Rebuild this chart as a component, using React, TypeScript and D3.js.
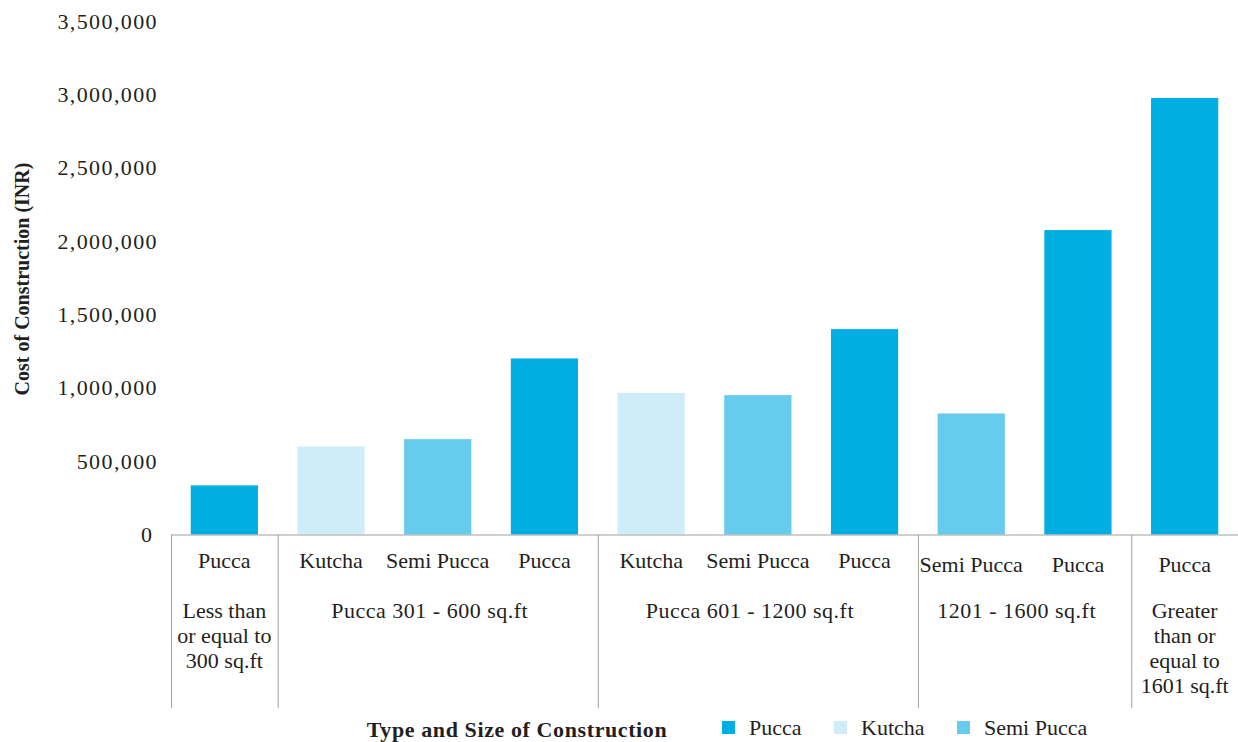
import React from "react";
import * as d3 from "d3";

const types = ["Pucca", "Kutcha", "Semi Pucca", "Pucca", "Kutcha", "Semi Pucca", "Pucca", "Semi Pucca", "Pucca", "Pucca"];
const values = [335000, 600000, 650000, 1200000, 965000, 950000, 1400000, 825000, 2075000, 2975000];
const groupSizes = [1, 3, 3, 2, 1];
const groupLabels = [
  ["Less than", "or equal to", "300 sq.ft"],
  ["Pucca 301 - 600 sq.ft"],
  ["Pucca 601 - 1200 sq.ft"],
  ["1201 - 1600 sq.ft"],
  ["Greater", "than or", "equal to", "1601 sq.ft"],
];
const yTicks = [0, 500000, 1000000, 1500000, 2000000, 2500000, 3000000, 3500000];
const legendItems = ["Pucca", "Kutcha", "Semi Pucca"];

const colors: Record<string, string> = {
  Pucca: "#00aee3",
  Kutcha: "#ceedf8",
  "Semi Pucca": "#66cbec",
};

const W = 1238;
const H = 742;
const left = 171;
const right = 1238;
const baseY = 534.5;
const topY = 21;
const tableBottom = 708;
const font = "'Liberation Serif', 'Times New Roman', serif";
const textColor = "#231f20";

export default function App() {
  const idx = values.map((_, i) => i);
  const x = d3.scaleBand<number>().domain(idx).range([left, right]).paddingInner(0.37).paddingOuter(0.185);
  const y = d3.scaleLinear().domain([0, 3500000]).range([baseY, topY]);
  const step = x.step();
  const fmt = d3.format(",");

  const groups: { start: number; end: number; labels: string[]; row2: boolean }[] = [];
  let s = 0;
  groupSizes.forEach((n, g) => {
    groups.push({ start: s, end: s + n - 1, labels: groupLabels[g], row2: g >= 3 });
    s += n;
  });
  const edgeX = (i: number) => left + step * i;

  return (
    <svg width={W} height={H} style={{ position: "absolute", left: 0, top: 0, background: "#fff" }} fontFamily={font}>
      {yTicks.map((t) => (
        <text
          key={t}
          x={t === 0 ? 152 : 158}
          y={y(t)}
          dy="0.35em"
          textAnchor="end"
          fontSize={22}
          letterSpacing={t === 0 ? 0 : 1.4}
          fill={textColor}
        >
          {fmt(t)}
        </text>
      ))}
      <text
        transform={`translate(29,279) rotate(-90)`}
        textAnchor="middle"
        fontSize={20}
        fontWeight="bold"
        fill={textColor}
      >
        Cost of Construction (INR)
      </text>
      {values.map((v, i) => (
        <rect
          key={i}
          x={x(i)}
          y={y(v)}
          width={x.bandwidth()}
          height={baseY - y(v)}
          fill={colors[types[i]]}
        />
      ))}
      <line x1={left} x2={right} y1={baseY + 0.5} y2={baseY + 0.5} stroke="#a0a0a0" strokeWidth={1} />
      {groups.map((g, gi) => (
        <line
          key={"sep" + gi}
          x1={edgeX(g.start) + 0.5}
          x2={edgeX(g.start) + 0.5}
          y1={baseY}
          y2={tableBottom}
          stroke="#a0a0a0"
          strokeWidth={1}
        />
      ))}
      {types.map((t, i) => {
        const g = groups.find((gg) => i >= gg.start && i <= gg.end)!;
        return (
          <text
            key={"t" + i}
            x={(x(i) as number) + x.bandwidth() / 2}
            y={g.row2 ? 572 : 568}
            textAnchor="middle"
            fontSize={22}
            fill={textColor}
          >
            {t}
          </text>
        );
      })}
      {groups.map((g, gi) => {
        const cx = (edgeX(g.start) + edgeX(g.end + 1)) / 2 - (g.end > g.start ? 8 : 0);
        return (
          <text key={"g" + gi} textAnchor="middle" fontSize={22} fill={textColor} letterSpacing={g.labels.length === 1 ? 0.5 : 0}>
            {g.labels.map((l, li) => (
              <tspan key={li} x={cx} y={618 + li * 25}>
                {l}
              </tspan>
            ))}
          </text>
        );
      })}
      <text x={517} y={737} textAnchor="middle" fontSize={22} letterSpacing={0.6} fontWeight="bold" fill={textColor}>
        Type and Size of Construction
      </text>
      {legendItems.map((l, i) => {
        const lx = [722, 834, 957][i];
        return (
          <g key={l}>
            <rect x={lx} y={721} width={13} height={13} fill={colors[l]} />
            <text x={lx + 27} y={735} fontSize={22} fill={textColor}>
              {l}
            </text>
          </g>
        );
      })}
    </svg>
  );
}
